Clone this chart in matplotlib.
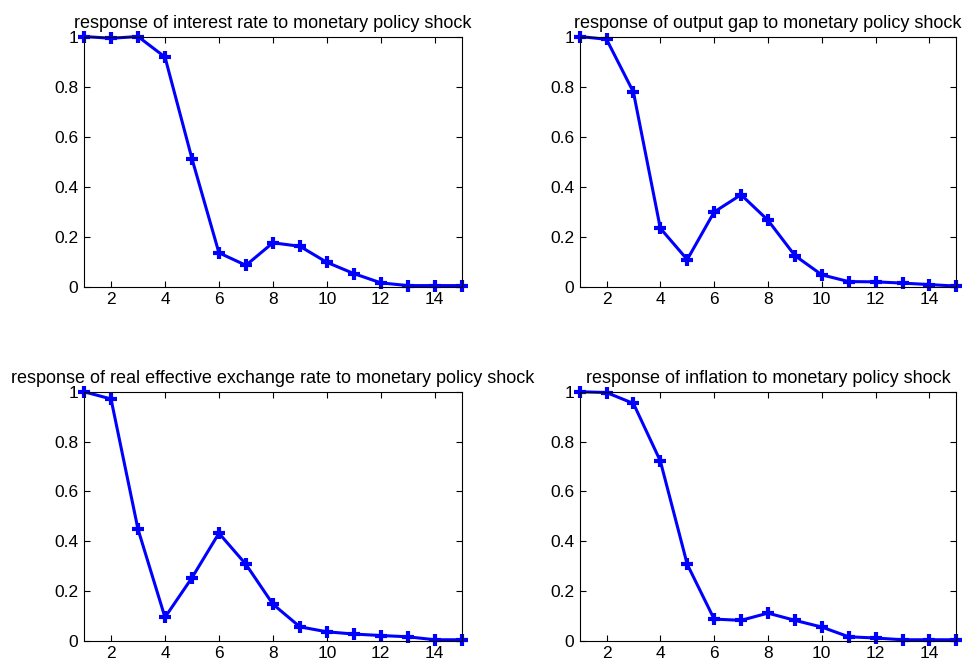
import numpy as np
import matplotlib
matplotlib.use("Agg")
import matplotlib.pyplot as plt

plt.rcParams['font.family'] = ['Liberation Sans', 'DejaVu Sans']

periods = np.arange(1, 16)

interest_rate = [1.0, 0.993, 1.0, 0.918, 0.512, 0.136, 0.086, 0.176, 0.162, 0.098,
                 0.053, 0.016, 0.005, 0.005, 0.005]
output_gap = [1.0, 0.989, 0.778, 0.234, 0.109, 0.299, 0.368, 0.266, 0.125, 0.048,
              0.021, 0.020, 0.015, 0.009, 0.003]
exchange_rate = [1.0, 0.971, 0.448, 0.094, 0.253, 0.432, 0.307, 0.147, 0.056, 0.036,
                 0.027, 0.021, 0.016, 0.004, 0.004]
inflation = [1.0, 0.997, 0.953, 0.722, 0.307, 0.087, 0.082, 0.111, 0.082, 0.055,
             0.016, 0.011, 0.004, 0.004, 0.004]

titles = [
    "response of interest rate to monetary policy shock",
    "response of output gap to monetary policy shock",
    "response of real effective exchange rate to monetary policy shock",
    "response of inflation to monetary policy shock",
]
series = [interest_rate, output_gap, exchange_rate, inflation]

fig = plt.figure(figsize=(9.66, 6.64), dpi=100)
rects = [
    [0.087, 0.568, 0.391, 0.377],
    [0.600, 0.568, 0.390, 0.377],
    [0.087, 0.035, 0.391, 0.375],
    [0.600, 0.035, 0.390, 0.375],
]

for rect, title, vals in zip(rects, titles, series):
    ax = fig.add_axes(rect)
    ax.plot(periods, vals, color='#0000ff', linewidth=2.2, marker='+',
            markersize=8, markeredgewidth=3, clip_on=False)
    ax.set_xlim(1, 15)
    ax.set_ylim(0, 1)
    ax.set_xticks(np.arange(2, 15, 2))
    ax.set_yticks([0, 0.2, 0.4, 0.6, 0.8, 1])
    ax.set_yticklabels(['0', '0.2', '0.4', '0.6', '0.8', '1'])
    ax.tick_params(direction='in', top=True, right=True, labelsize=12.5,
                   length=4, width=0.8, pad=4)
    for s in ax.spines.values():
        s.set_linewidth(0.8)
    ax.set_title(title, fontsize=13, pad=6)

fig.savefig('out.png', dpi=100)
